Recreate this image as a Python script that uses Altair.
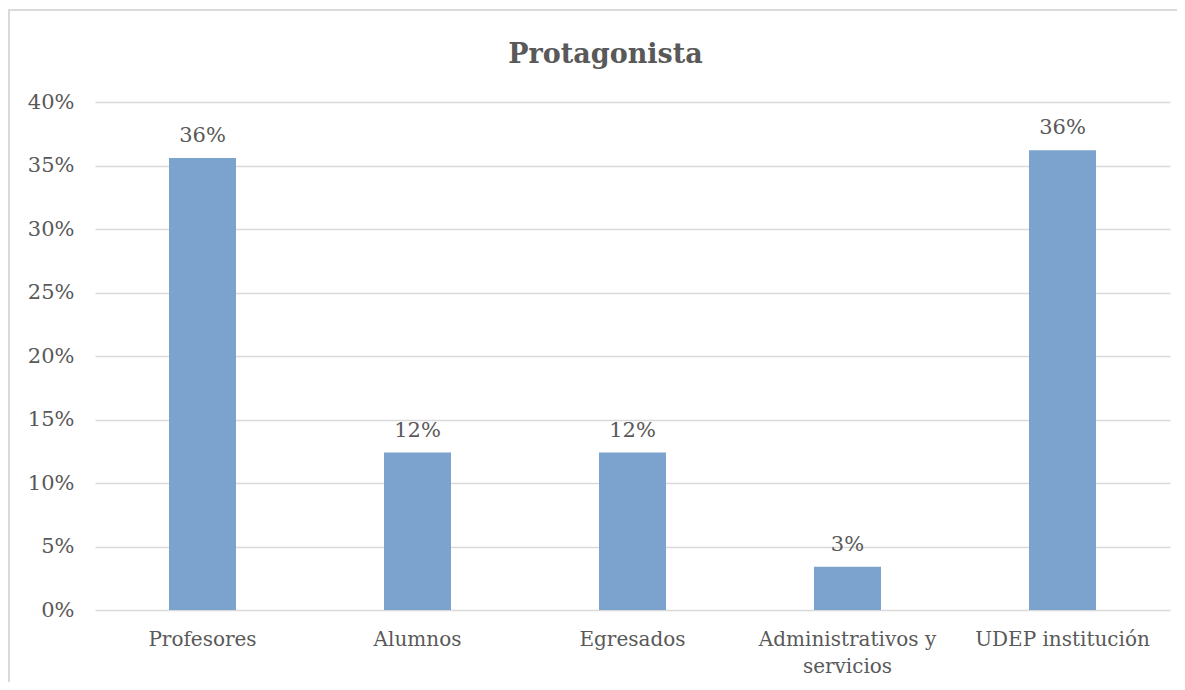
import altair as alt
import pandas as pd

categories = ["Profesores", "Alumnos", "Egresados", "Administrativos y servicios", "UDEP institución"]
values = [0.356, 0.124, 0.124, 0.034, 0.362]
labels = ["36%", "12%", "12%", "3%", "36%"]
y_ticks = [0, 0.05, 0.10, 0.15, 0.20, 0.25, 0.30, 0.35, 0.40]

df = pd.DataFrame({"cat": categories, "val": values, "lab": labels})

FONT = "DejaVu Serif"
GRAY = "#595959"

x = alt.X("cat:N", sort=categories, title=None,
          scale=alt.Scale(paddingInner=0.0, paddingOuter=0.0),
          axis=alt.Axis(labelAngle=0, labelFont=FONT, labelFontSize=20, labelColor=GRAY,
                        labelPadding=19, domain=False, ticks=False, labelLineHeight=27,
                        labelExpr="datum.label == 'Administrativos y servicios' ? ['Administrativos y', 'servicios'] : datum.label"))
y = alt.Y("val:Q", title=None,
          scale=alt.Scale(domain=[0, 0.40], nice=False),
          axis=alt.Axis(values=y_ticks, format=".0%", labelFont=FONT, labelFontSize=21,
                        labelColor=GRAY, labelPadding=21, domain=False, ticks=False,
                        gridColor="#d9d9d9", gridWidth=1.5))

bars = alt.Chart(df).mark_bar(size=67, color="#7BA3CE").encode(x=x, y=y)
text = alt.Chart(df).mark_text(font=FONT, fontSize=21, color=GRAY, baseline="alphabetic", dy=-16).encode(
    x=alt.X("cat:N", sort=categories), y="val:Q", text="lab:N")

frame = alt.Chart(df).mark_rect(fill=None, stroke="#d9d9d9", strokeWidth=1.5).encode(
    x=alt.value(-86), x2=alt.value(1100), y=alt.value(-92), y2=alt.value(700))

chart = alt.layer(frame, bars, text).properties(
    width=1075, height=508,
    autosize=alt.AutoSizeParams(type="none"),
    padding={"left": 87, "top": 94, "right": 7, "bottom": 72},
    title=alt.TitleParams("Protagonista", font=FONT, fontSize=27, fontWeight="bold",
                          color=GRAY, offset=-60, dx=-27, anchor="middle"),
).configure_view(stroke=None)

chart.save("out.html", embed_options={"renderer": "svg", "actions": False})
